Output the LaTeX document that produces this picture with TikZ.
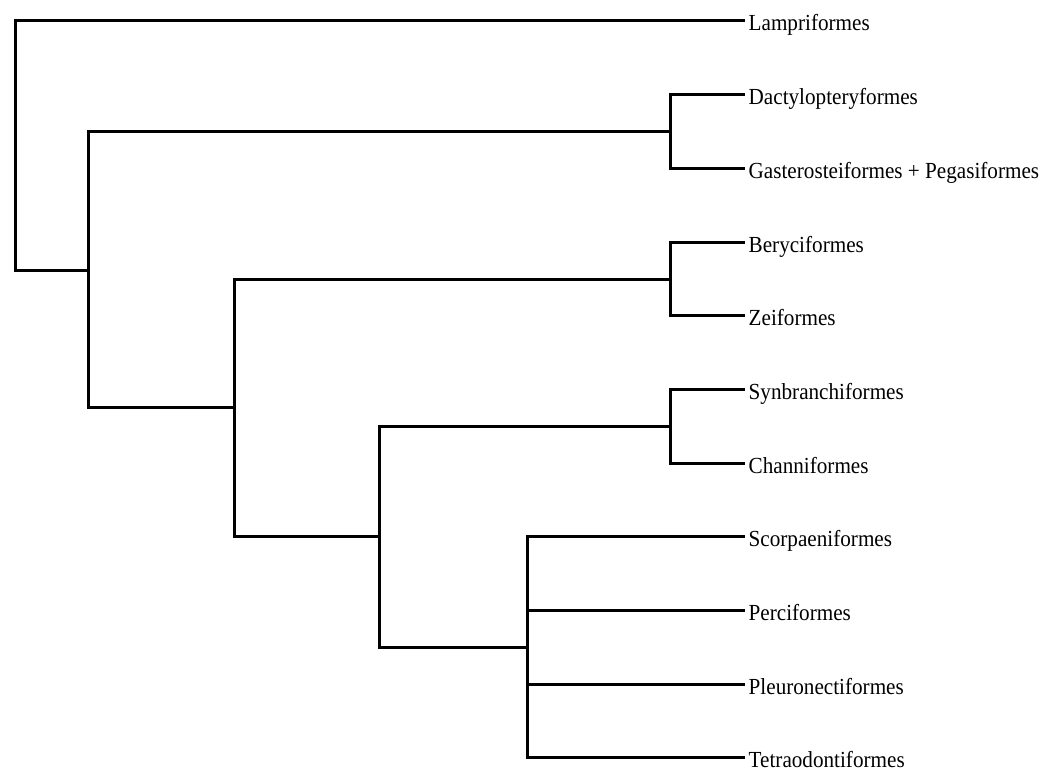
\documentclass[tikz,border=0pt]{standalone}
\usepackage{fontspec}
\setmainfont{Liberation Serif}[FakeStretch=0.92]
\begin{document}
\begin{tikzpicture}[x=1pt,y=-1pt,
  branch/.style={draw=black,line width=3pt,line join=miter},
  taxon/.style={anchor=base west,inner sep=0pt,xshift=3.5pt,yshift=-10pt,
    font=\fontsize{23}{26}\selectfont}]
\useasboundingbox (0,0) rectangle (1064,772);

% tips of the leaves (all branches end at the same x)
\coordinate (t0)  at (745,20.5);
\coordinate (t1)  at (745,94.5);
\coordinate (t2)  at (745,168.5);
\coordinate (t3)  at (745,242.5);
\coordinate (t4)  at (745,315.5);
\coordinate (t5)  at (745,389.5);
\coordinate (t6)  at (745,463.5);
\coordinate (t7)  at (745,536.5);
\coordinate (t8)  at (745,610.5);
\coordinate (t9)  at (745,684.5);
\coordinate (t10) at (745,757.5);

% internal nodes
\coordinate (root) at (15.5,145.5);
\coordinate (A)  at (88.5,270.5);
\coordinate (B)  at (234.5,407.5);
\coordinate (C)  at (379.5,536.5);
\coordinate (D)  at (527.5,647.5);
\coordinate (P1) at (670.5,131.5);
\coordinate (P2) at (670.5,279.5);
\coordinate (P3) at (670.5,426.5);

% branches
\draw[branch] (root) |- (t0);
\draw[branch] (root) |- (A);
\draw[branch] (A) |- (P1);
\draw[branch] (A) |- (B);
\draw[branch] (P1) |- (t1);
\draw[branch] (P1) |- (t2);
\draw[branch] (B) |- (P2);
\draw[branch] (B) |- (C);
\draw[branch] (P2) |- (t3);
\draw[branch] (P2) |- (t4);
\draw[branch] (C) |- (P3);
\draw[branch] (C) |- (D);
\draw[branch] (P3) |- (t5);
\draw[branch] (P3) |- (t6);
\draw[branch] (D) |- (t7);
\draw[branch] (D) |- (t8);
\draw[branch] (D) |- (t9);
\draw[branch] (D) |- (t10);

% taxon labels
\node[taxon] (n0)  at (t0)  {Lampriformes};
\node[taxon] (n1)  at (t1)  {Dactylopteryformes};
\node[taxon] (n2)  at (t2)  {Gasterosteiformes + Pegasiformes};
\node[taxon] (n3)  at (t3)  {Beryciformes};
\node[taxon] (n4)  at (t4)  {Zeiformes};
\node[taxon] (n5)  at (t5)  {Synbranchiformes};
\node[taxon] (n6)  at (t6)  {Channiformes};
\node[taxon] (n7)  at (t7)  {Scorpaeniformes};
\node[taxon] (n8)  at (t8)  {Perciformes};
\node[taxon] (n9)  at (t9)  {Pleuronectiformes};
\node[taxon] (n10) at (t10) {Tetraodontiformes};
\end{tikzpicture}
\end{document}
